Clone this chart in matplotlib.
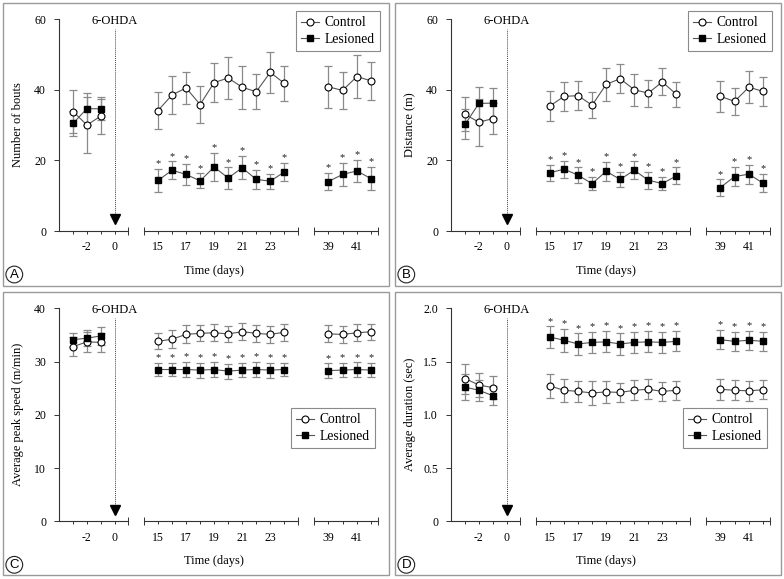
import numpy as np
import matplotlib
matplotlib.use('Agg')
import matplotlib.pyplot as plt
from matplotlib.lines import Line2D
from matplotlib.patches import Rectangle
import matplotlib.transforms as mtransforms

plt.rcParams['font.family'] = ['Liberation Serif', 'DejaVu Serif']

# ---- data (mean, SEM) ----
days = [-3, -2, -1, 15, 16, 17, 18, 19, 20, 21, 22, 23, 24, 39, 40, 41, 42]

ctrl_a = [33.8, 30.0, 32.5, 34.1, 38.5, 40.5, 35.8, 42.0, 43.3, 40.7, 39.4, 44.9, 41.8, 40.8, 39.8, 43.7, 42.5]
ctrl_a_err = [6.1, 8.0, 5.0, 5.2, 5.3, 4.5, 5.3, 5.6, 6.0, 6.1, 4.9, 5.8, 5.0, 5.9, 5.2, 6.0, 5.4]
les_a = [30.5, 34.6, 34.6, 14.3, 17.2, 16.0, 14.2, 18.1, 15.0, 17.9, 14.6, 14.1, 16.7, 14.0, 16.0, 17.0, 14.8]
les_a_err = [3.5, 4.5, 3.2, 3.3, 2.5, 2.9, 2.1, 4.0, 3.0, 3.3, 2.8, 2.1, 2.5, 2.5, 3.3, 3.2, 3.3]

ctrl_b = [33.0, 30.8, 31.8, 35.4, 38.1, 38.3, 35.6, 41.5, 43.1, 40.0, 39.0, 42.2, 38.7, 38.1, 36.7, 40.7, 39.5]
ctrl_b_err = [4.8, 6.7, 4.4, 4.2, 4.0, 4.1, 3.6, 4.7, 4.1, 4.5, 3.8, 3.8, 3.6, 4.3, 3.8, 4.6, 4.0]
les_b = [30.2, 36.1, 36.2, 16.5, 17.5, 15.8, 13.4, 16.9, 14.6, 17.2, 14.4, 13.4, 15.6, 12.3, 15.4, 16.1, 13.5]
les_b_err = [4.3, 4.7, 4.2, 2.3, 2.4, 2.2, 1.8, 2.7, 2.2, 2.5, 2.4, 1.9, 2.4, 2.3, 2.8, 2.7, 2.6]

ctrl_c = [32.8, 33.7, 33.6, 33.8, 34.2, 35.1, 35.3, 35.4, 35.2, 35.6, 35.3, 35.1, 35.5, 35.2, 35.1, 35.4, 35.6]
ctrl_c_err = [1.8, 1.9, 1.8, 1.5, 1.7, 1.7, 1.5, 1.6, 1.5, 1.6, 1.6, 1.6, 1.6, 1.6, 1.6, 1.6, 1.5]
les_c = [34.1, 34.4, 34.8, 28.5, 28.5, 28.5, 28.4, 28.5, 28.2, 28.4, 28.5, 28.4, 28.5, 28.3, 28.4, 28.5, 28.4]
les_c_err = [1.3, 1.5, 1.6, 1.2, 1.2, 1.4, 1.4, 1.4, 1.4, 1.3, 1.4, 1.4, 1.3, 1.35, 1.35, 1.35, 1.3]

ctrl_d = [1.34, 1.28, 1.255, 1.27, 1.23, 1.22, 1.205, 1.215, 1.21, 1.23, 1.24, 1.22, 1.23, 1.24, 1.23, 1.225, 1.235]
ctrl_d_err = [0.14, 0.11, 0.11, 0.115, 0.11, 0.10, 0.115, 0.10, 0.09, 0.095, 0.095, 0.09, 0.09, 0.10, 0.095, 0.095, 0.09]
les_d = [1.26, 1.23, 1.18, 1.73, 1.70, 1.665, 1.68, 1.685, 1.665, 1.68, 1.685, 1.68, 1.69, 1.705, 1.69, 1.70, 1.69]
les_d_err = [0.12, 0.10, 0.09, 0.10, 0.11, 0.10, 0.10, 0.10, 0.10, 0.10, 0.10, 0.10, 0.095, 0.09, 0.09, 0.09, 0.09]

# broken x axis: day limits, ticks and labels of each piece
seg_lims = [(-4, 1), (14, 25), (38, 42.5)]
seg_ticks = [[-3, -2, -1, 0], list(range(15, 25)), [39, 40, 41, 42]]
seg_labels = [['', '-2', '', '0'],
              ['15', '', '17', '', '19', '', '21', '', '23', ''],
              ['39', '', '41', '']]

W, H = 784, 579
fig = plt.figure(figsize=(W / 100, H / 100), dpi=100)

seg_px = [(59.3, 128.3), (144, 298.3), (314, 378.3)]
AX_C = '#333333'
ERR_C = '#8a8a8a'
LINE_C = '#555555'


def px_rect(l, t, r, b):
    return [l / W, 1 - b / H, (r - l) / W, (b - t) / H]


def draw_panel(dx, top, bot, ylabel, ymax, yticks, yticklabels,
               cm, ce, lm, le, letter, leg_xy):
    x = np.array(days)
    cm, ce, lm, le = map(np.array, (cm, ce, lm, le))
    for i, (lo, hi) in enumerate(seg_lims):
        l, r = seg_px[i]
        ax = fig.add_axes(px_rect(dx + l, top, dx + r, bot))
        ax.set_xlim(lo, hi)
        ax.set_ylim(0, ymax)
        ax.patch.set_alpha(0)
        m = (x >= lo) & (x <= hi)
        ax.errorbar(x[m], cm[m], yerr=ce[m], fmt='none', ecolor=ERR_C,
                    elinewidth=0.9, capsize=2.6, capthick=0.9, zorder=2, clip_on=False)
        ax.errorbar(x[m], lm[m], yerr=le[m], fmt='none', ecolor=ERR_C,
                    elinewidth=0.9, capsize=2.6, capthick=0.9, zorder=2, clip_on=False)
        ax.plot(x[m], cm[m], '-o', color=LINE_C, lw=0.8, mfc='white', mec='black',
                mew=0.8, ms=5, zorder=3, clip_on=False)
        ax.plot(x[m], lm[m], '-s', color=LINE_C, lw=0.8, mfc='black', mec='black',
                ms=5, zorder=4, clip_on=False)
        if lo > 0:
            for xi, yi in zip(x[m], lm[m] + le[m]):
                ax.annotate('*', (xi, yi), xytext=(0, 0.5), textcoords='offset points',
                            ha='center', va='bottom', fontsize=7.5, color='#222222')
        for s in ['top', 'right']:
            ax.spines[s].set_visible(False)
        ax.spines['bottom'].set_color(AX_C)
        ax.spines['bottom'].set_linewidth(0.8)
        ax.set_xticks(seg_ticks[i])
        ax.set_xticklabels(seg_labels[i], fontsize=8.5)
        ends = [hi] if i == 0 else [lo, hi]
        ax.set_xticks(ends, minor=True)
        ax.tick_params(axis='x', which='major', direction='out', length=2.5,
                       width=0.7, color=AX_C, pad=5)
        ax.tick_params(axis='x', which='minor', direction='inout', length=6,
                       width=0.7, color=AX_C)
        if i == 0:
            ax.spines['left'].set_color(AX_C)
            ax.spines['left'].set_linewidth(0.8)
            ax.set_yticks(yticks)
            ax.set_yticklabels(yticklabels, fontsize=8.5)
            ax.tick_params(axis='y', direction='out', length=3.5, width=0.7,
                           color=AX_C, pad=6)
            trans = mtransforms.blended_transform_factory(ax.transData, ax.transAxes)
            ax.plot([0, 0], [0.06, 0.955], ls=(0, (1, 1)), lw=0.7, color='#444444',
                    transform=trans, clip_on=False)
            ax.plot([0], [0.055], marker='v', ms=6.5, color='black', transform=trans,
                    clip_on=False)
            ax.text(0, 0.99, '6-OHDA', transform=trans, ha='center', va='center',
                    fontsize=9)
        else:
            ax.spines['left'].set_visible(False)
            ax.set_yticks([])

    # labels, legend, panel letter, frame
    fig.text((dx + 18.5) / W, 1 - ((top + bot) / 2) / H, ylabel, rotation=90,
             ha='center', va='center', fontsize=9)
    fig.text((dx + 214) / W, 1 - (bot + 40) / H, 'Time (days)', ha='center',
             va='center', fontsize=9)
    handles = [Line2D([], [], color=LINE_C, lw=0.8, marker='o', mfc='white',
                      mec='black', mew=0.8, ms=5),
               Line2D([], [], color=LINE_C, lw=0.8, marker='s', mfc='black',
                      mec='black', ms=5)]
    leg = fig.legend(handles, ['Control', 'Lesioned'], loc='upper right',
                     bbox_to_anchor=leg_xy, fontsize=9.8, frameon=True,
                     fancybox=False, edgecolor='#8a8a8a', framealpha=1,
                     handlelength=1.3, handletextpad=0.4, labelspacing=0.25,
                     borderpad=0.4, borderaxespad=0)
    leg.get_frame().set_linewidth(0.8)
    fig.text((dx + 14.3) / W, 1 - (bot + 43.5) / H, letter, family='Liberation Sans',
             ha='center', va='center', fontsize=9.5,
             bbox=dict(boxstyle='circle,pad=0.18', fc='white', ec='#222222', lw=0.8))
    ptop = top - 16.3
    fig.add_artist(Rectangle(((dx + 2.7) / W, 1 - (ptop + 283.3) / H),
                             386.3 / W, 283.3 / H, transform=fig.transFigure,
                             fill=False, ec='#9a9a9a', lw=1.0))


draw_panel(0, 19, 231, 'Number of bouts', 60, [0, 20, 40, 60], ['0', '20', '40', '60'],
           ctrl_a, ctrl_a_err, les_a, les_a_err, 'A', (380 / W, 1 - 11 / H))
draw_panel(392, 19, 231, 'Distance (m)', 60, [0, 20, 40, 60], ['0', '20', '40', '60'],
           ctrl_b, ctrl_b_err, les_b, les_b_err, 'B', (772 / W, 1 - 11 / H))
draw_panel(0, 308.3, 521.3, 'Average peak speed (m/min)', 40, [0, 10, 20, 30, 40],
           ['0', '10', '20', '30', '40'],
           ctrl_c, ctrl_c_err, les_c, les_c_err, 'C', (375 / W, 1 - 408 / H))
draw_panel(392, 308.3, 521.3, 'Average duration (sec)', 2.0, [0, 0.5, 1.0, 1.5, 2.0],
           ['0', '0.5', '1.0', '1.5', '2.0'],
           ctrl_d, ctrl_d_err, les_d, les_d_err, 'D', (767 / W, 1 - 408 / H))

plt.savefig('out.png', dpi=100, facecolor='white')
plt.close()
